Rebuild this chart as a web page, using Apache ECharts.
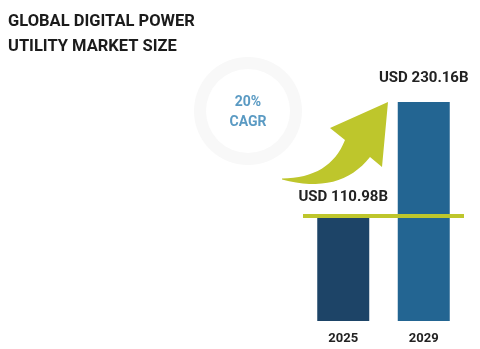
<!DOCTYPE html>
<html><head><meta charset="utf-8">
<script src="https://cdn.jsdelivr.net/npm/echarts@6/dist/echarts.min.js"></script>
<style>html,body{margin:0;padding:0;background:#fff}#c{width:480px;height:349px}</style>
</head><body><div id="c"></div>
<script>
var categories = ['2025', '2029'];
var values = [110.98, 230.16];
var valueLabels = ['USD 110.98B', 'USD 230.16B'];
var titleLines = ['GLOBAL DIGITAL POWER', 'UTILITY MARKET SIZE'];
var cagrText = ['20%', 'CAGR'];

var barColors = ['#1d4467', '#236592'];
var lime = '#bec62c';

function quad(p0, c, p2, n) {
  var pts = [];
  for (var i = 0; i <= n; i++) {
    var t = i / n, u = 1 - t;
    pts.push([u*u*p0[0] + 2*u*t*c[0] + t*t*p2[0], u*u*p0[1] + 2*u*t*c[1] + t*t*p2[1]]);
  }
  return pts;
}
var arrowPts = quad([282,178.5],[330,178],[345,140],16)
  .concat([[330,128],[388,102],[382,167]])
  .concat(quad([370,157],[340,195],[282,179.5],16));

var chart = echarts.init(document.getElementById('c'));
chart.setOption({
  animation: false,
  backgroundColor: '#fff',
  title: {
    text: titleLines.join('\n'), left: 3, top: 4,
    textStyle: { fontFamily: 'Roboto', fontWeight: 'bold', fontSize: 16.5, lineHeight: 25, color: '#1b1b1b' }
  },
  grid: { left: 303, right: 16, top: 102, bottom: 28 },
  xAxis: {
    type: 'category', data: categories,
    axisLine: { show: false }, axisTick: { show: false },
    axisLabel: { margin: 11, fontFamily: 'Roboto', fontWeight: 'bold', fontSize: 13, color: '#222' }
  },
  yAxis: { type: 'value', min: 0, max: function (v) { return v.max; }, show: false, splitLine: { show: false } },
  graphic: [
    { type: 'ring', shape: { cx: 248, cy: 111, r: 54, r0: 42 }, style: { fill: '#f8f8f8' }, z: 1 },
    { type: 'text', x: 248, y: 112, style: { text: cagrText.join('\n'), align: 'center', verticalAlign: 'middle',
      font: 'bold 14px Roboto', lineHeight: 20, fill: '#5a9ac3' }, z: 2 },
    { type: 'polygon', shape: { points: arrowPts }, style: { fill: lime }, z: 3 }
  ],
  series: [{
    type: 'bar', barWidth: 52,
    data: values.map(function (v, i) {
      return {
        value: v,
        itemStyle: { color: barColors[i] },
        label: { show: true, position: 'top', distance: i === 0 ? 11 : 16, formatter: valueLabels[i],
          fontFamily: 'Roboto', fontWeight: 'bold', fontSize: 15, color: '#222' }
      };
    }),
    markLine: {
      symbol: 'none', silent: true, label: { show: false },
      lineStyle: { color: lime, width: 4, type: 'solid' },
      data: [{ yAxis: values[0] }]
    }
  }]
});
</script></body></html>
